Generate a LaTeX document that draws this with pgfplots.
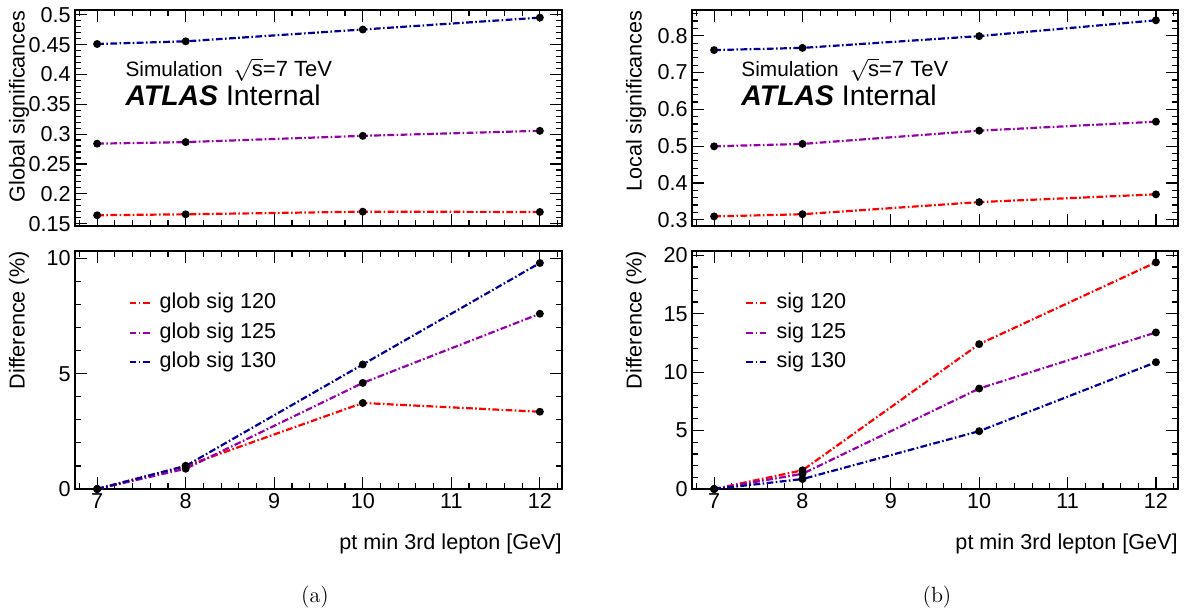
\documentclass[border=0pt]{standalone}
\usepackage{fontspec}
\usepackage{pgfplots}
\pgfplotsset{compat=1.18}
\newfontfamily\arial{Liberation Sans}
\newcommand\tickfont{\arial\fontsize{10.8}{13}\selectfont}
\newcommand\simfont{\arial\fontsize{10.4}{13}\selectfont}
\newcommand\sqfont{\arial\fontsize{11}{13}\selectfont}
\newcommand\atlfont{\arial\fontsize{14.2}{16}\selectfont}
\definecolor{rred}{RGB}{255,0,0}
\definecolor{rpurple}{RGB}{150,0,170}
\definecolor{rblue}{RGB}{0,0,153}
\pgfplotsset{
  atl/.style={
    width=243.5pt, scale only axis,
    xmin=6.75, xmax=12.25,
    xtick={7,8,9,10,11,12},
    minor xtick={6.8,7.2,7.4,7.6,7.8,8.2,8.4,8.6,8.8,9.2,9.4,9.6,9.8,10.2,10.4,10.6,10.8,11.2,11.4,11.6,11.8,12.2},
    tick align=inside,
    major tick length=6pt, minor tick length=3pt,
    axis line style={line width=0.75pt},
    tick style={black, line width=0.6pt},
    tick label style={font=\tickfont},
    yticklabel style={inner xsep=2pt},
    xticklabel style={inner ysep=2pt},
    /pgf/number format/assume math mode=true,
    clip=false,
    ylabel style={at={(axis description cs:-0.115,1)}, anchor=east, font=\tickfont, inner sep=0pt},
    xlabel style={at={(axis description cs:1,0)}, anchor=base east, yshift=-30pt, font=\tickfont, inner sep=0pt},
    legend style={draw=none, fill=none, font=\tickfont, inner sep=0pt, row sep=4.25pt, column sep=3.5pt,
      nodes={inner sep=0pt, text height=8pt, text depth=2.5pt}},
    legend cell align=left,
    legend image code/.code={\draw[#1] (0pt,0pt) -- (11pt,0pt);},
  },
  ser/.style={color=#1, line width=1.1pt, dash pattern=on 3.4pt off 1.2pt on 0.8pt off 1.2pt,
    mark=*, mark size=1.4pt, mark options={solid, draw=black, fill=black}},
}
\begin{document}
\begin{tikzpicture}
\useasboundingbox (0,0) rectangle (593.5pt,305.5pt);
% ---------- (a) top
\begin{axis}[atl, at={(37.5pt,192.5pt)}, anchor=south west, height=108pt,
  ymin=0.146, ymax=0.508,
  ytick={0.15,0.2,0.25,0.3,0.35,0.4,0.45,0.5},
  yticklabels={0.15,0.2,0.25,0.3,0.35,0.4,0.45,0.5},
  minor ytick={0.16,0.17,0.18,0.19,0.21,0.22,0.23,0.24,0.26,0.27,0.28,0.29,0.31,0.32,0.33,0.34,0.36,0.37,0.38,0.39,0.41,0.42,0.43,0.44,0.46,0.47,0.48,0.49},
  xticklabel=\empty,
  ylabel={Global significances}]
\addplot[ser=rred] coordinates {(7,0.164) (8,0.1656) (10,0.1700) (12,0.1695)};
\addplot[ser=rpurple] coordinates {(7,0.284) (8,0.2866) (10,0.2971) (12,0.3055)};
\addplot[ser=rblue] coordinates {(7,0.451) (8,0.4555) (10,0.4753) (12,0.4952)};
\node[anchor=base west, font=\simfont, inner sep=0pt] at (axis description cs:0.103,0.69) {Simulation};
\node[anchor=base west, font=\sqfont, inner sep=0pt] at (axis description cs:0.325,0.69) {$\sqrt{\mbox{s}}$=7 TeV};
\node[anchor=base west, font=\atlfont, inner sep=0pt] at (axis description cs:0.103,0.56) {\bfseries\itshape ATLAS\normalfont\atlfont{} Internal};
\end{axis}
% ---------- (a) bottom
\begin{axis}[atl, at={(37.5pt,61pt)}, anchor=south west, height=119pt,
  ymin=0, ymax=10.32,
  ytick={0,5,10}, minor ytick={1,2,3,4,6,7,8,9},
  ylabel={Difference (\%)},
  xlabel={pt min 3rd lepton [GeV]},
  legend style={at={(axis description cs:0.109,0.826)}, anchor=north west}]
\addplot[ser=rred] coordinates {(7,0) (8,1.0) (10,3.73) (12,3.35)};
\addlegendentry{glob sig 120}
\addplot[ser=rpurple] coordinates {(7,0) (8,0.88) (10,4.6) (12,7.6)};
\addlegendentry{glob sig 125}
\addplot[ser=rblue] coordinates {(7,0) (8,1.0) (10,5.4) (12,9.8)};
\addlegendentry{glob sig 130}
\end{axis}
% ---------- (b) top
\begin{axis}[atl, at={(346pt,192.5pt)}, anchor=south west, height=108pt, width=243pt,
  ymin=0.283, ymax=0.870,
  ytick={0.3,0.4,0.5,0.6,0.7,0.8},
  yticklabels={0.3,0.4,0.5,0.6,0.7,0.8},
  minor ytick={0.32,0.34,0.36,0.38,0.42,0.44,0.46,0.48,0.52,0.54,0.56,0.58,0.62,0.64,0.66,0.68,0.72,0.74,0.76,0.78,0.82,0.84,0.86},
  xticklabel=\empty,
  ylabel={Local significances}]
\addplot[ser=rred] coordinates {(7,0.309) (8,0.315) (10,0.348) (12,0.369)};
\addplot[ser=rpurple] coordinates {(7,0.4995) (8,0.506) (10,0.542) (12,0.5665)};
\addplot[ser=rblue] coordinates {(7,0.761) (8,0.767) (10,0.799) (12,0.842)};
\node[anchor=base west, font=\simfont, inner sep=0pt] at (axis description cs:0.101,0.69) {Simulation};
\node[anchor=base west, font=\sqfont, inner sep=0pt] at (axis description cs:0.324,0.69) {$\sqrt{\mbox{s}}$=7 TeV};
\node[anchor=base west, font=\atlfont, inner sep=0pt] at (axis description cs:0.101,0.56) {\bfseries\itshape ATLAS\normalfont\atlfont{} Internal};
\end{axis}
% ---------- (b) bottom
\begin{axis}[atl, at={(346pt,61pt)}, anchor=south west, height=119pt, width=243pt,
  ymin=0, ymax=20.37,
  ytick={0,5,10,15,20}, minor ytick={1,2,3,4,6,7,8,9,11,12,13,14,16,17,18,19},
  ylabel={Difference (\%)},
  xlabel={pt min 3rd lepton [GeV]},
  legend style={at={(axis description cs:0.109,0.826)}, anchor=north west}]
\addplot[ser=rred] coordinates {(7,0) (8,1.6) (10,12.4) (12,19.4)};
\addlegendentry{sig 120}
\addplot[ser=rpurple] coordinates {(7,0) (8,1.3) (10,8.6) (12,13.4)};
\addlegendentry{sig 125}
\addplot[ser=rblue] coordinates {(7,0) (8,0.85) (10,4.95) (12,10.85)};
\addlegendentry{sig 130}
\end{axis}
\node[font=\fontsize{11}{13}\selectfont] at (157.5pt,7pt) {(a)};
\node[font=\fontsize{11}{13}\selectfont] at (468.5pt,7pt) {(b)};
\end{tikzpicture}
\end{document}
